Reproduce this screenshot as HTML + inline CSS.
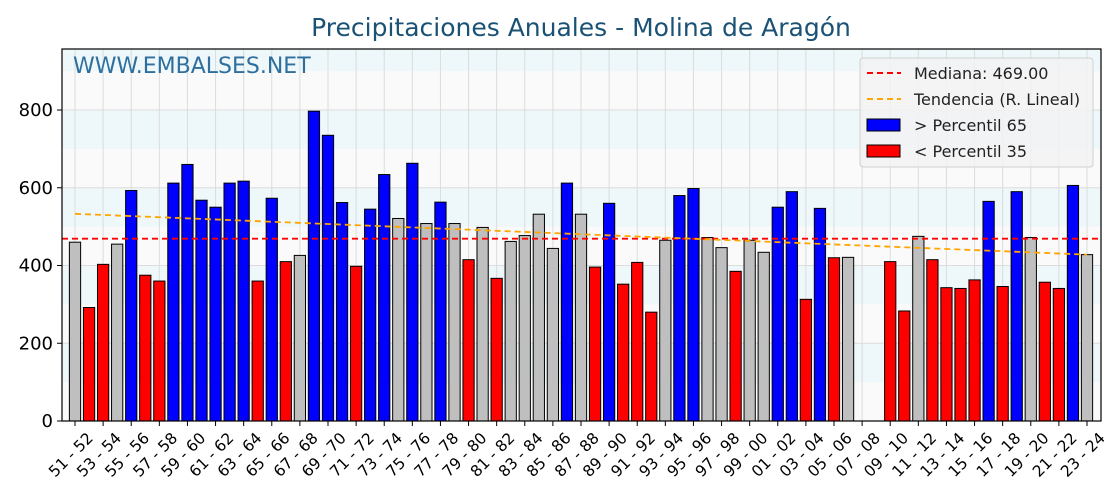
<!DOCTYPE html>
<html><head><meta charset="utf-8"><style>
body{margin:0;background:#fff;}
svg{display:block;font-family:"DejaVu Sans","Liberation Sans",sans-serif;}
</style></head><body>
<svg id="chart" width="1120" height="500">
<text x="581" y="36" text-anchor="middle" font-size="25" fill="#1a5276">Precipitaciones Anuales - Molina de Aragón</text>
<g id="bands"></g><g id="grid"></g><g id="bars"></g><g id="lines"></g><g id="axes"></g>
<text x="73" y="73" font-size="22" fill="#2e6f9e">WWW.EMBALSES.NET</text>
<g>
<rect x="860" y="58" width="233" height="109" rx="3" fill="#f2f2f2" fill-opacity="0.85" stroke="#d0d0d0"/>
<line x1="867" y1="73" x2="901" y2="73" stroke="red" stroke-width="2" stroke-dasharray="6,4"/>
<text x="914" y="79" font-size="16" fill="#222">Mediana: 469.00</text>
<line x1="867" y1="99" x2="901" y2="99" stroke="orange" stroke-width="2" stroke-dasharray="6,4"/>
<text x="914" y="105" font-size="16" fill="#222">Tendencia (R. Lineal)</text>
<rect x="867" y="119" width="33" height="12" fill="blue" stroke="#000"/>
<text x="914" y="131" font-size="16" fill="#222"> &gt; Percentil 65</text>
<rect x="867" y="145" width="33" height="12" fill="red" stroke="#000"/>
<text x="914" y="157" font-size="16" fill="#222"> &lt; Percentil 35</text>
</g>
</svg>
<script>
const values=[460,292,403,455,593,375,360,612,660,568,550,612,617,360,573,410,426,797,735,562,398,545,634,521,663,508,563,508,415,498,367,462,477,532,444,612,532,396,560,352,408,280,465,580,598,472,446,385,465,434,550,590,313,547,420,421,0,0,410,283,475,415,343,341,363,565,346,590,472,357,341,606,428];
const median=469;
const trendEnds=[533,428];
const thresholds=[420.5,540];
const yTicks=[0,200,400,600,800];
const startYear=1951;
const NS="http://www.w3.org/2000/svg";
const X0=62,X1=1101,Y0=421,YT=49,YMAX=957;
const n=values.length;
const step=(1087-75)/(n-1);
const xs=i=>75+i*step;
const ys=v=>Y0-(v/YMAX)*(Y0-YT);
function mk(p,t,a){const e=document.createElementNS(NS,t);for(const k in a)e.setAttribute(k,a[k]);p.appendChild(e);return e;}
const g2=s=>String(s%100).padStart(2,'0');
const bands=document.getElementById('bands');
mk(bands,'rect',{x:X0,y:YT,width:X1-X0,height:Y0-YT,fill:'#fafafa'});
for(let b=100;b<YMAX;b+=200){const top=Math.min(b+100,YMAX);const r=mk(bands,'rect',{x:X0,y:ys(top),width:X1-X0,height:ys(b)-ys(top),fill:'#eef7fa'});

}
const grid=document.getElementById('grid'),axes=document.getElementById('axes');
yTicks.forEach(t=>{const y=ys(t);
mk(grid,'line',{x1:X0,x2:X1,y1:y,y2:y,stroke:'#dcdcdc','stroke-width':1});
mk(axes,'line',{x1:X0-5,x2:X0,y1:y,y2:y,stroke:'#000'});
const tx=mk(axes,'text',{x:X0-9,y:y+6,'text-anchor':'end','font-size':18,fill:'#000'});tx.textContent=t;

});
for(let i=0;i<n;i+=2){const x=xs(i);
mk(grid,'line',{x1:x,x2:x,y1:YT,y2:Y0,stroke:'#dcdcdc','stroke-width':1});
mk(axes,'line',{x1:x,x2:x,y1:Y0,y2:Y0+5,stroke:'#000'});
const yr=startYear+i;
const ax=x+19,ay=Y0+18;
const tx=mk(axes,'text',{x:ax,y:ay,'text-anchor':'end','font-size':15.5,fill:'#000',transform:`rotate(-45 ${ax} ${ay})`});
tx.textContent=g2(yr)+' - '+g2(yr+1);

}
const p35=thresholds[0],p65=thresholds[1];
const bars=document.getElementById('bars');const bw=step*0.8;
values.forEach((v,i)=>{if(v<=0)return;
const col=v>p65?'blue':(v<p35?'red':'#bfbfbf');
const r=mk(bars,'rect',{x:xs(i)-bw/2,y:ys(v),width:bw,height:Y0-ys(v),fill:col,stroke:'#000','stroke-width':1});

});
const lines=document.getElementById('lines');
const ml=mk(lines,'line',{x1:X0,x2:X1,y1:ys(median),y2:ys(median),stroke:'red','stroke-width':1.8,'stroke-dasharray':'6,4'});


const tl=mk(lines,'line',{x1:xs(0),x2:xs(n-1),y1:ys(trendEnds[0]),y2:ys(trendEnds[1]),stroke:'orange','stroke-width':1.8,'stroke-dasharray':'6,4'});


const fr=mk(axes,'rect',{x:X0,y:YT,width:X1-X0,height:Y0-YT,fill:'none',stroke:'#000','stroke-width':1.2});


</script>
</body></html>
